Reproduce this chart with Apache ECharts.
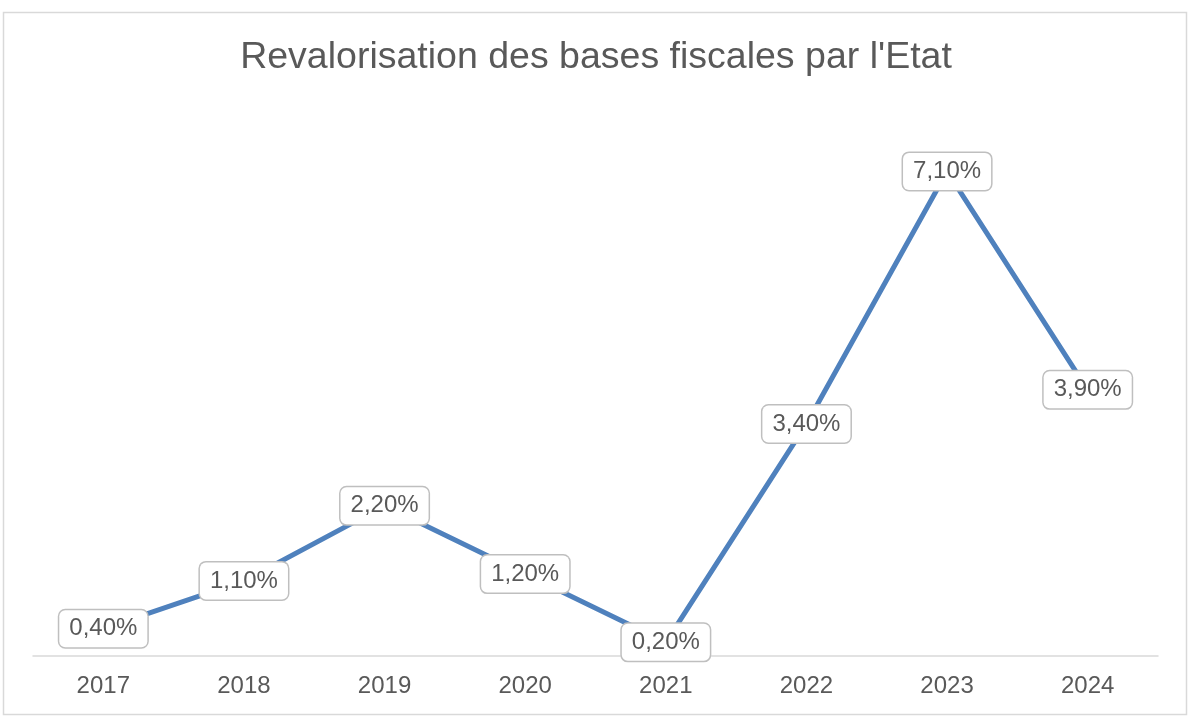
<!DOCTYPE html>
<html>
<head>
<meta charset="utf-8">
<script src="https://cdn.jsdelivr.net/npm/echarts@6/dist/echarts.min.js"></script>
<style>html,body{margin:0;padding:0;background:#fff;}#c{width:1192px;height:720px;}</style>
</head>
<body>
<div id="c"></div>
<script>
const categories = ['2017','2018','2019','2020','2021','2022','2023','2024'];
const values = [0.4, 1.1, 2.2, 1.2, 0.2, 3.4, 7.1, 3.9];
const titleText = "Revalorisation des bases fiscales par l'Etat";

const chart = echarts.init(document.getElementById('c'));
chart.setOption({
  animation: false,
  backgroundColor: '#fff',
  title: {
    text: titleText,
    left: 'center',
    top: 34,
    textStyle: { fontFamily: 'Liberation Sans, Arial, sans-serif', fontSize: 37.5, fontWeight: 'normal', color: '#595959' }
  },
  graphic: [{
    type: 'rect',
    shape: { x: 3.5, y: 12.5, width: 1183, height: 702 },
    style: { fill: 'none', stroke: '#d9d9d9', lineWidth: 1.5 },
    silent: true
  }],
  grid: { left: 33, right: 34, top: 110, bottom: 64 },
  xAxis: {
    type: 'category',
    data: categories,
    boundaryGap: true,
    axisLine: { lineStyle: { color: '#d9d9d9', width: 1.5 } },
    axisTick: { show: false },
    axisLabel: { color: '#595959', fontSize: 24, margin: 18, fontFamily: 'Liberation Sans, Arial, sans-serif' }
  },
  yAxis: {
    type: 'value', min: 0, max: 8, show: false,
    splitLine: { show: false }
  },
  series: [{
    type: 'line',
    data: values,
    symbol: 'circle',
    symbolSize: 1,
    showSymbol: true,
    itemStyle: { color: 'rgba(0,0,0,0)' },
    lineStyle: { color: '#4f81bd', width: 5 },
    z: 2,
    label: {
      show: true,
      position: 'inside',
      formatter: p => p.value.toFixed(2).replace('.', ',') + '%',
      color: '#595959',
      fontSize: 24,
      lineHeight: 26,
      fontFamily: 'Liberation Sans, Arial, sans-serif',
      backgroundColor: '#fff',
      borderColor: '#bfbfbf',
      borderWidth: 1.5,
      borderRadius: 6,
      padding: [6, 10, 5, 10]
    }
  }]
});
</script>
</body>
</html>
